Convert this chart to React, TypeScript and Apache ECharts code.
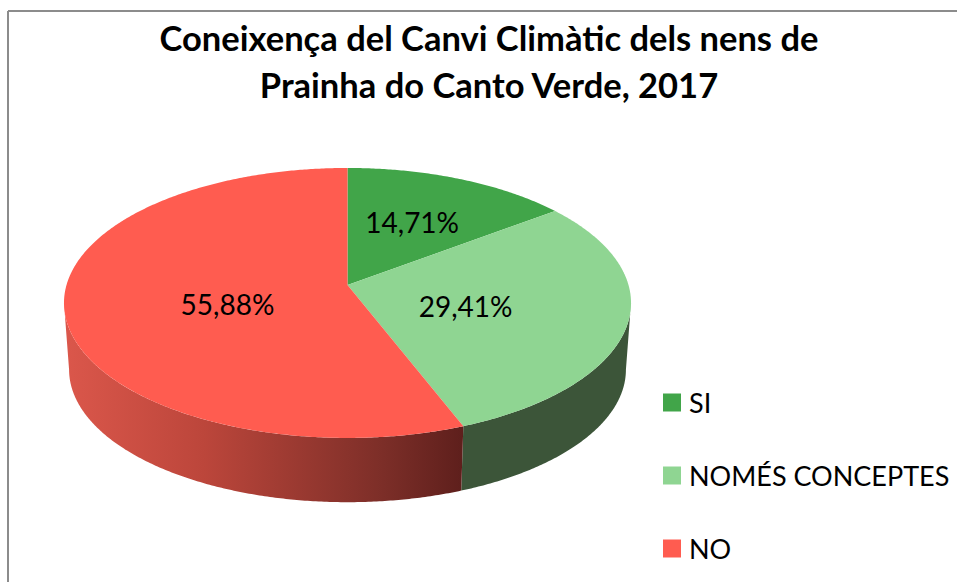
import React, { useEffect, useRef } from "react";
import * as echarts from "echarts";

const categories = ["SI", "NOMÉS CONCEPTES", "NO"];
const shares = [14.71, 29.41, 55.88];
const titleLines = ["Coneixença del Canvi Climàtic dels nens de", "Prainha do Canto Verde, 2017"];

const topColors = ["#41A549", "#8FD592", "#FF5C50"];
const FONT = "Lato, 'Noto Sans', sans-serif";

// perspective projection of the pie disc
const APEX_X = 347.5;
const APEX_Y = 285;
const RX = 281;
const RY = 132.6;
const PERSP = -0.133;
const DEPTH_Y = 67;
const DEPTH_SCALE = 0.982;
const SILHOUETTE = (Math.acos(PERSP) * 180) / Math.PI; // angle where the rim leaves the outline

const project = (deg: number, r: number, bottom: boolean): number[] => {
  const a = (deg * Math.PI) / 180;
  const x = r * Math.sin(a);
  const y = -r * Math.cos(a);
  const d = 1 + PERSP * y;
  const k = bottom ? DEPTH_SCALE : 1;
  return [APEX_X + (k * RX * x) / d, APEX_Y + (bottom ? DEPTH_Y : 0) + (k * RY * y) / d];
};

const arc = (from: number, to: number, bottom: boolean): number[][] => {
  const pts: number[][] = [];
  const n = Math.max(2, Math.ceil(Math.abs(to - from) * 2));
  for (let i = 0; i <= n; i++) pts.push(project(from + ((to - from) * i) / n, 1, bottom));
  return pts;
};

const wallFill = [
  "#3C5539",
  "#3C5539",
  {
    type: "linear",
    x: 0,
    y: 0,
    x2: 1,
    y2: 0,
    colorStops: [
      { offset: 0, color: "#DB574B" },
      { offset: 0.35, color: "#BC463B" },
      { offset: 0.8, color: "#7C2E28" },
      { offset: 1, color: "#5E1F1C" },
    ],
  },
];

const labelPlace = [
  { r: 0.55, dy: -2 },
  { r: 0.43, dy: 5 },
  { r: 0.43, dy: 8 },
];

const total = shares.reduce((s, v) => s + v, 0);

const renderSlice = (index: number) => (_params: any, api: any) => {
  const before = shares.slice(0, index).reduce((s, v) => s + v, 0);
  const start = (before / total) * 360;
  const end = start + (api.value(0) / total) * 360;
  const children: any[] = [];
  const wallFrom = Math.max(start, SILHOUETTE);
  const wallTo = Math.min(end, 360 - SILHOUETTE);
  if (wallTo > wallFrom) {
    children.push({
      type: "polygon",
      shape: { points: [...arc(wallFrom, wallTo, false), ...arc(wallTo, wallFrom, true)] },
      style: { fill: wallFill[index] },
    });
  }
  children.push({
    type: "polygon",
    shape: { points: [[APEX_X, APEX_Y], ...arc(start, end, false)] },
    style: { fill: topColors[index] },
  });
  const mid = (start + end) / 2;
  const place = labelPlace[index];
  const [lx, ly] = project(mid, place.r, false);
  children.push({
    type: "text",
    x: lx,
    y: ly + place.dy,
    z2: 10,
    style: {
      text: `${api.value(0).toFixed(2).replace(".", ",")}%`,
      fill: "#000000",
      font: `28px ${FONT}`,
      align: "center",
      verticalAlign: "middle",
    },
  });
  return { type: "group", children };
};

export default function App() {
  const ref = useRef<HTMLDivElement>(null);
  useEffect(() => {
    const chart = echarts.init(ref.current!, null, { renderer: "svg" });
    chart.setOption({
      animation: false,
      backgroundColor: "#FFFFFF",
      title: {
        text: titleLines.join("\n"),
        left: 484,
        top: 9,
        textAlign: "center",
        textStyle: { fontFamily: FONT, fontWeight: "bold", fontSize: 34.5, lineHeight: 47, color: "#000000" },
      },
      legend: {
        orient: "vertical",
        left: 663,
        top: 389,
        padding: 0,
        icon: "rect",
        itemWidth: 18,
        itemHeight: 18,
        itemGap: 46,
        height: 190,
        selectedMode: false,
        data: categories,
        textStyle: { fontFamily: FONT, fontSize: 27, lineHeight: 27, color: "#000000", padding: [0, 0, 0, 3] },
      },
      graphic: [
        { type: "line", shape: { x1: 8, y1: 11, x2: 957, y2: 11 }, style: { stroke: "#8C8C8C", lineWidth: 2 } },
        { type: "line", shape: { x1: 8, y1: 11, x2: 8, y2: 582 }, style: { stroke: "#8C8C8C", lineWidth: 2 } },
      ],
      series: categories.map((name, i) => ({
        type: "custom",
        name,
        coordinateSystem: "none",
        silent: true,
        itemStyle: { color: topColors[i] },
        data: [[shares[i]]],
        renderItem: renderSlice(i),
      })),
    });
    return () => chart.dispose();
  }, []);
  return <div ref={ref} style={{ position: "absolute", left: 0, top: 0, width: 957, height: 582 }} />;
}
